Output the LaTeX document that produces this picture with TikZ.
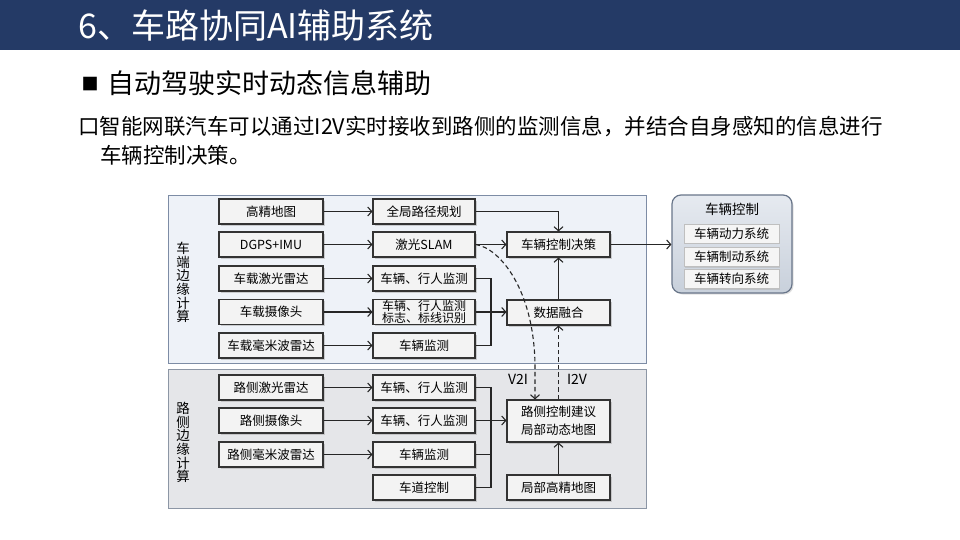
\documentclass[tikz,border=0pt]{standalone}
\usepackage{fontspec}
\setmainfont{Noto Sans CJK SC}
\usetikzlibrary{arrows.meta,shadows,calc}
\definecolor{navy}{RGB}{36,58,102}
\definecolor{upfill}{RGB}{238,242,248}
\definecolor{upline}{RGB}{125,140,165}
\definecolor{lofill}{RGB}{229,230,233}
\definecolor{loline}{RGB}{140,150,165}
\definecolor{boxfill}{RGB}{243,243,243}
\definecolor{grptop}{RGB}{230,234,240}
\definecolor{grpbot}{RGB}{200,208,219}
\definecolor{grpline}{RGB}{105,118,138}
\tikzset{
  box/.style={draw=black!80, fill=boxfill, line width=1.1pt, minimum width=104pt, minimum height=25pt,
    inner sep=0pt, align=center, font=\fontsize{12.5}{14}\selectfont,
    drop shadow={shadow xshift=1.5pt, shadow yshift=-1.5pt, fill=black!35, opacity=0.5}},
  mbox/.style={box, minimum width=102pt},
  cbox/.style={box, minimum width=103pt},
  sysbox/.style={draw=black!25, fill=black!4, line width=0.6pt, minimum width=95pt, minimum height=19pt,
    inner sep=0pt, font=\fontsize{12.5}{14}\selectfont,
    drop shadow={shadow xshift=1pt, shadow yshift=-1pt, fill=black!30, opacity=0.5}},
  conn/.style={line width=1.1pt, draw=black!85},
  arr/.style={conn, -{Straight Barb[length=4pt,width=9pt,line width=1.1pt]}},
  darr/.style={arr, dash pattern=on 4.5pt off 3pt},
  lbl/.style={inner sep=0pt, font=\fontsize{14}{16}\selectfont},
  vlabel/.style={inner sep=0pt, align=center, font=\fontsize{13.5}{13.6}\selectfont},
}
\begin{document}
\begin{tikzpicture}[x=1pt,y=-1pt]
\useasboundingbox (0,0) rectangle (960,540);
\fill[white] (0,0) rectangle (960,540);
% title bar
\fill[navy] (0,0) rectangle (960,50);
\node[anchor=west, inner sep=0pt, text=white, font=\fontsize{34}{36}\selectfont] (title) at (78,26) {6、车路协同AI辅助系统};
% heading
\node[inner sep=0pt, font=\fontsize{17}{18}\selectfont] (bul) at (90,84) {■};
\node[anchor=west, inner sep=0pt, font=\fontsize{27}{30}\selectfont] (head) at (107,83) {自动驾驶实时动态信息辅助};
\node[anchor=west, inner sep=0pt, font=\fontsize{21.5}{24}\selectfont] (p1) at (78,127) {口智能网联汽车可以通过I2V实时接收到路侧的监测信息，并结合自身感知的信息进行};
\node[anchor=west, inner sep=0pt, font=\fontsize{21.5}{24}\selectfont] (p2) at (100,155) {车辆控制决策。};

% regions
\node[draw=upline, fill=upfill, line width=1pt, minimum width=478pt, minimum height=168pt, inner sep=0pt] (up) at (407,279) {};
\node[draw=loline, fill=lofill, line width=1pt, minimum width=478pt, minimum height=139pt, inner sep=0pt] (lo) at (407,438.5) {};
\node[vlabel] (vu) at (183,282.5) {车\\端\\边\\缘\\计\\算};
\node[vlabel] (vl) at (183,442.5) {路\\侧\\边\\缘\\计\\算};

% upper boxes
\node[box] (a1) at (271,211.5) {高精地图};
\node[box] (a2) at (271,244.5) {DGPS+IMU};
\node[box] (a3) at (271,278.5) {车载激光雷达};
\node[box] (a4) at (271,312) {车载摄像头};
\node[box] (a5) at (271,345.5) {车载毫米波雷达};
\node[mbox] (b1) at (424,211.5) {全局路径规划};
\node[mbox] (b2) at (424,244.5) {激光SLAM};
\node[mbox] (b3) at (424,278.5) {车辆、行人监测};
\node[mbox, font=\fontsize{12}{11.5}\selectfont] (b4) at (424,312) {车辆、行人监测\\标志、标线识别};
\node[mbox] (b5) at (424,345.5) {车辆监测};
\node[cbox] (dec) at (558.5,244.5) {车辆控制决策};
\node[cbox] (fuse) at (558.5,312.5) {数据融合};

% lower boxes
\node[box] (c1) at (271,387.5) {路侧激光雷达};
\node[box] (c2) at (271,420.5) {路侧摄像头};
\node[box] (c3) at (271,454.5) {路侧毫米波雷达};
\node[mbox] (d1) at (424,387.5) {车辆、行人监测};
\node[mbox] (d2) at (424,420.5) {车辆、行人监测};
\node[mbox] (d3) at (424,454.5) {车辆监测};
\node[mbox] (d4) at (424,487.5) {车道控制};
\node[cbox, minimum height=42pt, font=\fontsize{12.5}{18}\selectfont] (rsc) at (558.5,421) {路侧控制建议\\局部动态地图};
\node[cbox] (lmap) at (558.5,487.5) {局部高精地图};

% vehicle control group
\node[draw=grpline, line width=1.2pt, rounded corners=9pt, top color=grptop, bottom color=grpbot,
  minimum width=120pt, minimum height=98pt, inner sep=0pt,
  drop shadow={shadow xshift=1.5pt, shadow yshift=-1.5pt, fill=black!30, opacity=0.4}] (grp) at (732,244) {};
\node[inner sep=0pt, font=\fontsize{13.5}{15}\selectfont] (gt) at (732,209) {车辆控制};
\node[sysbox] (s1) at (731.5,233.5) {车辆动力系统};
\node[sysbox] (s2) at (731.5,257) {车辆制动系统};
\node[sysbox] (s3) at (731.5,279) {车辆转向系统};

% coordinates for buses
\coordinate (bus) at (491,0);
\coordinate (v2ix) at (535,0);

% upper connectors
\foreach \i in {1,...,5} { \draw[arr] (a\i) -- (b\i); }
\draw[arr] (b1.east) -| (dec.north);
\draw[arr] (b2) -- (dec);
\draw[conn] (b3.east) -- (b3.east -| bus) -- (b5.east -| bus) -- (b5.east);
\draw[arr] (b4.east) -- (b4.east -| fuse.west);
\draw[arr] (fuse.north) -- (dec.south);
\draw[arr] (dec.east) -- (dec.east -| grp.west);

% lower connectors
\foreach \i in {1,...,3} { \draw[arr] (c\i) -- (d\i); }
\draw[conn] (d1.east) -- (d1.east -| bus) -- (d4.east -| bus) -- (d4.east);
\draw[conn] (d3.east) -- (d3.east -| bus);
\draw[arr] (d2.east) -- (d2.east -| rsc.west);
\draw[arr] (lmap.north) -- (rsc.south);

% V2I / I2V
\draw[darr] (b2.east) .. controls (500,248) and (534,290) .. (535,365) -- (rsc.north -| v2ix);
\draw[darr] (rsc.north) -- (fuse.south);
\node[lbl] (v2i) at (518,379) {V2I};
\node[lbl] (i2v) at (577,379) {I2V};
\end{tikzpicture}
\end{document}
